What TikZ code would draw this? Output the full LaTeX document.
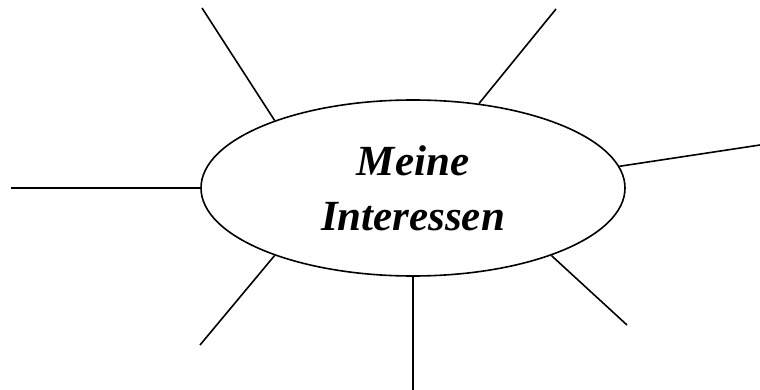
\documentclass[tikz,border=0pt]{standalone}
\usepackage{fontspec}
\setmainfont{Liberation Serif}
\usetikzlibrary{shapes.geometric}

\begin{document}
\begin{tikzpicture}[
  x=1pt, y=-1pt,
  hub/.style={draw, ellipse, line width=1.6pt, minimum width=424pt, minimum height=176pt,
    inner sep=0pt, align=center, font=\fontsize{43}{55}\selectfont\bfseries\itshape},
  spoke/.style={line width=1.6pt}
]
\useasboundingbox (0,0) rectangle (760,390);

\node[hub] (hub) at (413,188) {Meine\\Interessen};

% free ends of the spokes
\coordinate (upleft) at (202,8);
\coordinate (upright) at (556,9);
\coordinate (right) at (760,145);
\coordinate (left) at (11,188);
\coordinate (lowleft) at (200,345);
\coordinate (bottom) at (413,390);
\coordinate (lowright) at (627,325);

\draw[spoke] (hub.154) -- (upleft);
\draw[spoke] (hub.52) -- (upright);
\draw[spoke] (hub.6) -- (right);
\draw[spoke] (hub.180) -- (left);
\draw[spoke] (hub.206) -- (lowleft);
\draw[spoke] (hub.270) -- (bottom);
\draw[spoke] (hub.334) -- (lowright);

\end{tikzpicture}
\end{document}
